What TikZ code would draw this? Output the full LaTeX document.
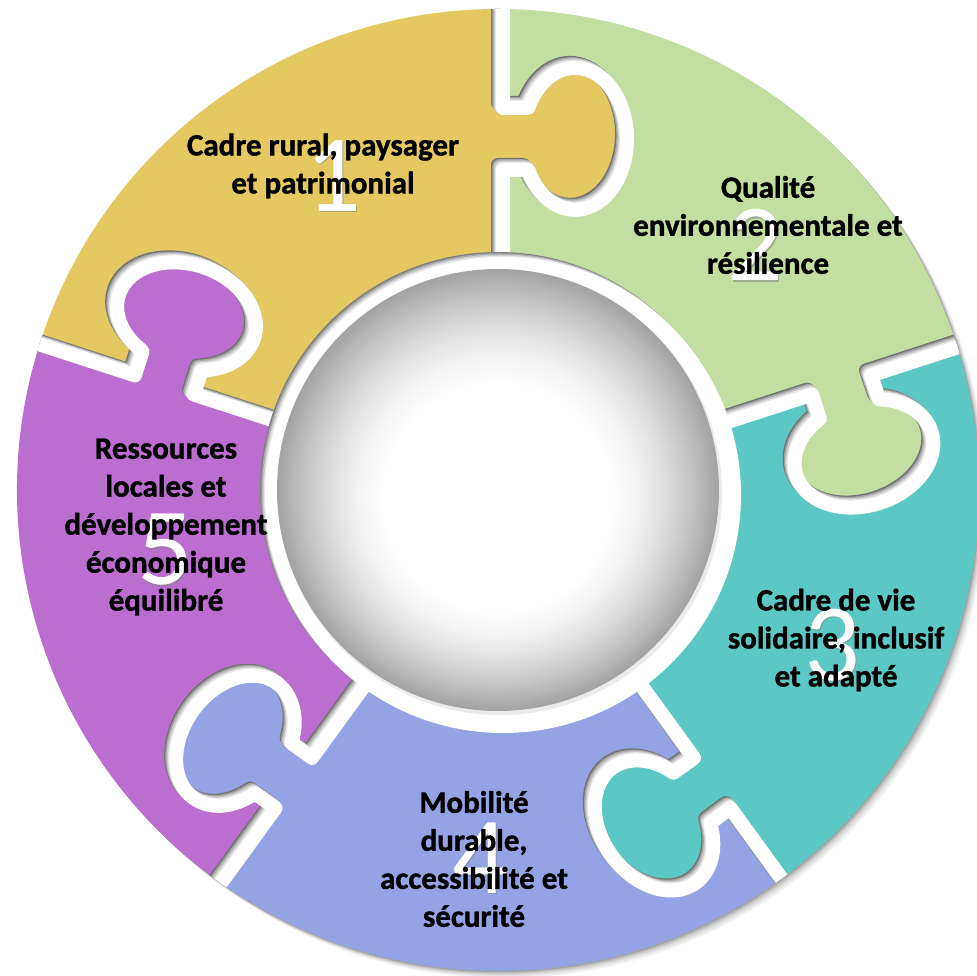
\documentclass[tikz,border=0pt]{standalone}
\usepackage{fontspec}
\setmainfont{Carlito}[BoldFeatures={FakeBold=1.2}]
\definecolor{cY}{HTML}{E4C862}
\definecolor{cG}{HTML}{C3DEA1}
\definecolor{cT}{HTML}{5CC8C5}
\definecolor{cB}{HTML}{93A3E3}
\definecolor{cP}{HTML}{BB6ECF}
\definecolor{sphedge}{HTML}{A4A4A4}
\tikzset{
  lbl/.style={align=center, inner sep=0pt, text=black, font=\fontsize{31}{38}\selectfont\bfseries},
  num/.style={inner sep=0pt, text=white, font=\fontsize{110}{110}\selectfont},
  numsh/.style={inner sep=0pt, text=black!50, opacity=0.55, font=\fontsize{110}{110}\selectfont},
  gapline/.style={line width=14pt, line join=round},
}
\begin{document}
\begin{tikzpicture}[x=1pt,y=1pt]
\useasboundingbox (0,0) rectangle (977,975);
\fill[white] (0,0) rectangle (977,975);
\coordinate (C) at (498,485);
% outer drop shadow
\foreach \s/\c in {7/5,5.5/10,4/17,2.5/26,1.2/36}
  \fill[black!\c] ([shift={(\s,-\s)}]C) circle[radius=481];
% sectors
\begin{scope}[shift={(C)}]
\fill[cY] (0,0) -- (90:481) arc[start angle=90,end angle=162,radius=481] -- cycle;
\fill[cG] (0,0) -- (18:481) arc[start angle=18,end angle=90,radius=481] -- cycle;
\fill[cT] (0,0) -- (-54:481) arc[start angle=-54,end angle=18,radius=481] -- cycle;
\fill[cB] (0,0) -- (-126:481) arc[start angle=-126,end angle=-54,radius=481] -- cycle;
\fill[cP] (0,0) -- (162:481) arc[start angle=162,end angle=234,radius=481] -- cycle;
\end{scope}
% knobs
\foreach \a/\col in {90/cY,18/cG,-54/cT,-126/cB,162/cP}
  \fill[\col, shift={(C)}, rotate=\a-90] (-3,325) -- (25.3,325)
     arc[start angle=-154,end angle=154,x radius=52,y radius=71] -- (-3,387) -- cycle;
% gaps with shadow
\begin{scope}
\clip (C) circle[radius=481];
\foreach \a in {90,18,-54,-126,162} {
  \foreach \s/\c in {0/55,1.25/36,2.5/22,3.75/10,5/0} {
    \draw[gapline, black!\c, shift={(C)}, shift={(\s,-\s)}, rotate=\a-90]
      (0,200) -- (0,325) -- (25.3,325)
      arc[start angle=-154,end angle=154,x radius=52,y radius=71] -- (0,387) -- (0,500);
  }
}
\end{scope}
% central hole with shadow
\foreach \s/\c in {0/50,1.25/34,2.5/20,3.75/9,5/0}
  \fill[black!\c] ([shift={(\s,-\s)}]C) circle[radius=238];
% sphere
\fill[black!8] ([shift={(2,-3)}]C) circle[radius=222];
\foreach \i in {0,...,44} {
  \pgfmathsetmacro\rr{221-2.5*\i}
  \pgfmathsetmacro\pp{100*(1-\i/45)^1.6}
  \fill[sphedge!\pp!white] ([yshift=-0.2*\i]C) circle[radius=\rr];
}
% numbers
\node[numsh] (s1) at (334.5,797.5) {1};
\node[num] (n1) at (333,799) {1};
\node[numsh] (s2) at (756.5,728.5) {2};
\node[num] (n2) at (755,730) {2};
\node[numsh] (s3) at (833.5,328.5) {3};
\node[num] (n3) at (832,330) {3};
\node[numsh] (s4) at (481.5,115.5) {4};
\node[num] (n4) at (480,117) {4};
\node[numsh] (s5) at (166.5,423.5) {5};
\node[num] (n5) at (165,425) {5};
% labels
\node[lbl] (l1) at (323,809) {Cadre rural, paysager\\et patrimonial};
\node[lbl] (l2) at (768,750) {Qualité\\environnementale et\\résilience};
\node[lbl] (l3) at (836,335) {Cadre de vie\\solidaire, inclusif\\et adapté};
\node[lbl] (l4) at (474,116) {Mobilité\\durable,\\accessibilité et\\sécurité};
\node[lbl] (l5) at (166,448) {Ressources\\locales et\\développement\\économique\\équilibré};
\end{tikzpicture}
\end{document}
